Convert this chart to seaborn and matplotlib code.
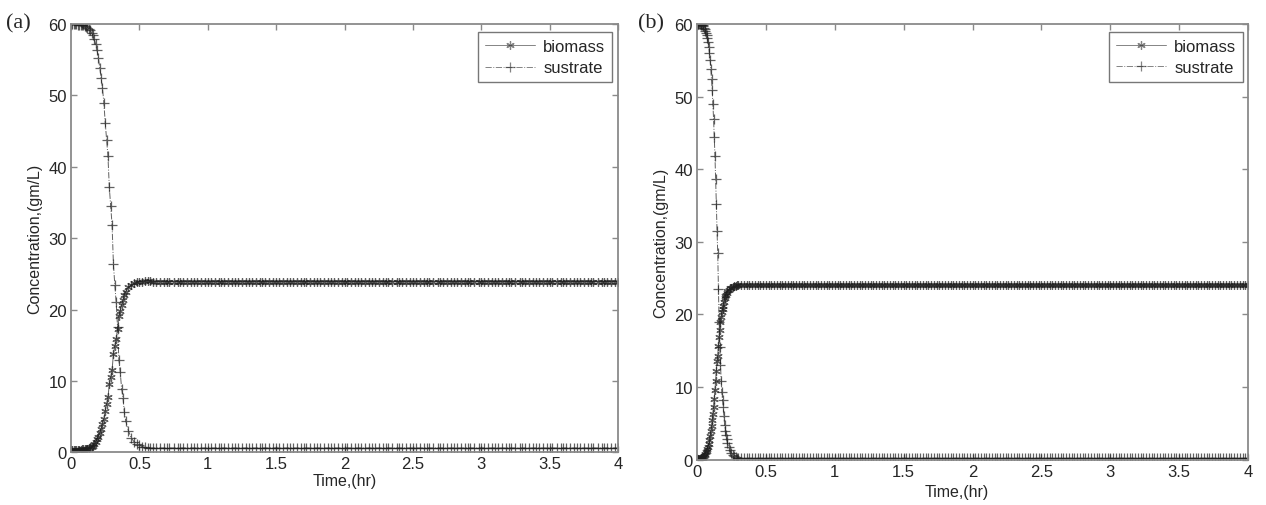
import matplotlib
matplotlib.use("Agg")
import matplotlib.pyplot as plt
import seaborn as sns

# ---- panel (a): shared time grid of the transition ----
t_a = [0.00, 0.01, 0.02, 0.03, 0.04, 0.05, 0.06, 0.07, 0.08, 0.09,
       0.10, 0.11, 0.12, 0.13, 0.14, 0.15, 0.16, 0.17, 0.18, 0.19,
       0.20, 0.21, 0.22, 0.23, 0.24, 0.25, 0.26, 0.27, 0.28, 0.29,
       0.30, 0.31, 0.32, 0.33, 0.34, 0.35, 0.36, 0.37, 0.38, 0.39,
       0.40, 0.42, 0.44, 0.46, 0.48, 0.50, 0.52, 0.54, 0.56, 0.58]
biomass_a = [0.3, 0.3, 0.3, 0.3, 0.3, 0.3, 0.3, 0.35, 0.4, 0.4,
             0.4, 0.45, 0.5, 0.6, 0.7, 0.8, 0.9, 1.1, 1.4, 1.8,
             2.2, 2.7, 3.3, 3.9, 4.7, 5.8, 6.8, 7.7, 9.5, 10.5,
             11.5, 13.7, 14.9, 15.9, 17.3, 19.1, 19.8, 20.7, 21.3, 22.0,
             22.5, 23.1, 23.5, 23.7, 23.8, 23.9, 23.9, 24.0, 24.0, 24.0]
sustrate_a = [60.0, 60.0, 60.0, 60.0, 60.0, 59.9, 59.9, 59.9, 59.8, 59.8,
              59.7, 59.6, 59.5, 59.3, 59.1, 58.8, 58.4, 57.9, 57.2, 56.3,
              55.3, 53.9, 52.5, 51.0, 49.0, 46.2, 43.8, 41.5, 37.1, 34.5,
              31.9, 26.4, 23.5, 21.0, 17.6, 12.9, 11.2, 8.9, 7.6, 5.6,
              4.4, 3.0, 2.0, 1.5, 1.2, 1.0, 0.8, 0.7, 0.6, 0.6]
# steady part of (a)
tail_a = [0.60, 0.62, 0.65, 0.68, 0.70, 0.72, 0.75, 0.78, 0.80, 0.82, 0.85, 0.88, 0.90, 0.92, 0.95, 0.98,
          1.00, 1.02, 1.05, 1.08, 1.10, 1.12, 1.15, 1.18, 1.20, 1.22, 1.25, 1.28, 1.30, 1.32, 1.35, 1.38,
          1.40, 1.42, 1.45, 1.48, 1.50, 1.52, 1.55, 1.58, 1.60, 1.62, 1.65, 1.68, 1.70, 1.72, 1.75, 1.78,
          1.80, 1.82, 1.85, 1.88, 1.90, 1.92, 1.95, 1.98, 2.00, 2.02, 2.05, 2.08, 2.10, 2.12, 2.15, 2.18,
          2.20, 2.22, 2.25, 2.28, 2.30, 2.32, 2.35, 2.38, 2.40, 2.42, 2.45, 2.48, 2.50, 2.52, 2.55, 2.58,
          2.60, 2.62, 2.65, 2.68, 2.70, 2.72, 2.75, 2.78, 2.80, 2.82, 2.85, 2.88, 2.90, 2.92, 2.95, 2.98,
          3.00, 3.02, 3.05, 3.08, 3.10, 3.12, 3.15, 3.18, 3.20, 3.22, 3.25, 3.28, 3.30, 3.32, 3.35, 3.38,
          3.40, 3.42, 3.45, 3.48, 3.50, 3.52, 3.55, 3.58, 3.60, 3.62, 3.65, 3.68, 3.70, 3.72, 3.75, 3.78,
          3.80, 3.82, 3.85, 3.88, 3.90, 3.92, 3.95, 3.98, 4.00]
biomass_a_level = 23.9
sustrate_a_level = 0.6

# ---- panel (b) ----
t_b = [0.000, 0.005, 0.010, 0.015, 0.020, 0.025, 0.030, 0.035, 0.040, 0.045,
       0.050, 0.055, 0.060, 0.065, 0.070, 0.075, 0.080, 0.085, 0.090, 0.095,
       0.100, 0.105, 0.110, 0.115, 0.120, 0.125, 0.130, 0.135, 0.140, 0.145,
       0.150, 0.155, 0.160, 0.165, 0.170, 0.175, 0.180, 0.185, 0.190, 0.195,
       0.200, 0.205, 0.210, 0.215, 0.220, 0.230, 0.240, 0.250, 0.260, 0.270,
       0.280, 0.290]
biomass_b = [0.1, 0.1, 0.1, 0.1, 0.1, 0.15, 0.2, 0.2, 0.3, 0.4,
             0.5, 0.6, 0.8, 1.0, 1.2, 1.5, 1.8, 2.2, 2.7, 3.2,
             3.9, 4.6, 5.4, 6.3, 7.3, 8.4, 9.6, 10.9, 12.2, 13.6,
             14.3, 15.7, 16.9, 17.9, 18.9, 19.7, 20.4, 20.8, 21.2, 21.7,
             22.2, 22.5, 22.7, 23.0, 23.2, 23.4, 23.6, 23.7, 23.8, 23.9,
             23.9, 24.0]
sustrate_b = [60.0, 60.0, 60.0, 60.0, 60.0, 60.0, 59.9, 59.9, 59.8, 59.7,
              59.5, 59.3, 59.1, 58.8, 58.5, 58.1, 57.5, 56.9, 56.0, 55.0,
              53.8, 52.4, 50.9, 49.0, 46.9, 44.5, 41.8, 38.7, 35.2, 31.5,
              28.5, 23.5, 19.0, 15.5, 13.0, 10.9, 9.3, 8.2, 7.3, 6.0,
              4.8, 4.0, 3.4, 2.8, 2.3, 1.7, 1.3, 0.9, 0.7, 0.5,
              0.4, 0.3]
tail_b = [0.30, 0.32, 0.34, 0.36, 0.38, 0.40, 0.42, 0.44, 0.46, 0.48,
          0.50, 0.52, 0.54, 0.56, 0.58, 0.60, 0.62, 0.64, 0.66, 0.68,
          0.70, 0.72, 0.74, 0.76, 0.78, 0.80, 0.82, 0.84, 0.86, 0.88,
          0.90, 0.92, 0.94, 0.96, 0.98, 1.00, 1.02, 1.04, 1.06, 1.08,
          1.10, 1.12, 1.14, 1.16, 1.18, 1.20, 1.22, 1.24, 1.26, 1.28,
          1.30, 1.32, 1.34, 1.36, 1.38, 1.40, 1.42, 1.44, 1.46, 1.48,
          1.50, 1.52, 1.54, 1.56, 1.58, 1.60, 1.62, 1.64, 1.66, 1.68,
          1.70, 1.72, 1.74, 1.76, 1.78, 1.80, 1.82, 1.84, 1.86, 1.88,
          1.90, 1.92, 1.94, 1.96, 1.98, 2.00, 2.02, 2.04, 2.06, 2.08,
          2.10, 2.12, 2.14, 2.16, 2.18, 2.20, 2.22, 2.24, 2.26, 2.28,
          2.30, 2.32, 2.34, 2.36, 2.38, 2.40, 2.42, 2.44, 2.46, 2.48,
          2.50, 2.52, 2.54, 2.56, 2.58, 2.60, 2.62, 2.64, 2.66, 2.68,
          2.70, 2.72, 2.74, 2.76, 2.78, 2.80, 2.82, 2.84, 2.86, 2.88,
          2.90, 2.92, 2.94, 2.96, 2.98, 3.00, 3.02, 3.04, 3.06, 3.08,
          3.10, 3.12, 3.14, 3.16, 3.18, 3.20, 3.22, 3.24, 3.26, 3.28,
          3.30, 3.32, 3.34, 3.36, 3.38, 3.40, 3.42, 3.44, 3.46, 3.48,
          3.50, 3.52, 3.54, 3.56, 3.58, 3.60, 3.62, 3.64, 3.66, 3.68,
          3.70, 3.72, 3.74, 3.76, 3.78, 3.80, 3.82, 3.84, 3.86, 3.88,
          3.90, 3.92, 3.94, 3.96, 3.98, 4.00]
biomass_b_level = 24.0
sustrate_b_level = 0.2

x_ticks = [0, 0.5, 1, 1.5, 2, 2.5, 3, 3.5, 4]
x_ticklabels = ["0", "0.5", "1", "1.5", "2", "2.5", "3", "3.5", "4"]
y_ticks = [0, 10, 20, 30, 40, 50, 60]

sns.set_style("ticks")
plt.rcParams["font.family"] = ["Liberation Sans", "DejaVu Sans"]
plt.rcParams["font.size"] = 12

GRAY = "#8a8a8a"
INK = "#1e1e1e"

fig = plt.figure(figsize=(12.66, 5.06), dpi=100)
ax_a = fig.add_axes([0.0561, 0.1042, 0.4321, 0.8464])
ax_b = fig.add_axes([0.5506, 0.0895, 0.4352, 0.8611])


def draw_panel(ax, t, bio, sub, tail, bio_level, sub_level, legend_anchor):
    tt = t + tail
    bio_all = bio + [bio_level] * len(tail)
    sub_all = sub + [sub_level] * len(tail)
    sns.lineplot(x=tt, y=bio_all, ax=ax, estimator=None, sort=False,
                 color=INK, linestyle="-", linewidth=0.7, alpha=0.7,
                 marker=(6, 2, 0), markersize=6, markeredgewidth=0.9,
                 markeredgecolor=INK, label="biomass")
    sns.lineplot(x=tt, y=sub_all, ax=ax, estimator=None, sort=False,
                 color=INK, linestyle="-.", linewidth=0.7, alpha=0.7,
                 marker="+", markersize=7, markeredgewidth=0.9,
                 markeredgecolor=INK, label="sustrate")
    ax.set_xlim(0, 4)
    ax.set_ylim(0, 60)
    ax.set_xticks(x_ticks)
    ax.set_xticklabels(x_ticklabels)
    ax.set_yticks(y_ticks)
    ax.tick_params(direction="in", top=True, right=True, length=4,
                   width=1, color=GRAY, labelsize=12, pad=3)
    for sp in ax.spines.values():
        sp.set_color(GRAY)
        sp.set_linewidth(1.3)
    ax.set_xlabel("Time,(hr)", fontsize=11.5, labelpad=1)
    ax.set_ylabel("Concentration,(gm/L)", fontsize=11.5, labelpad=4)
    leg = ax.legend(loc="upper right", bbox_to_anchor=legend_anchor,
                    borderaxespad=0, fancybox=False, frameon=True,
                    handlelength=3.0, labelspacing=0.4, borderpad=0.4,
                    handletextpad=0.5, fontsize=12)
    leg.get_frame().set_edgecolor("#555555")
    leg.get_frame().set_linewidth(1.0)
    for h in leg.legend_handles:
        h.set_alpha(0.55)


draw_panel(ax_a, t_a, biomass_a, sustrate_a, tail_a,
           biomass_a_level, sustrate_a_level, (0.989, 0.981))
draw_panel(ax_b, t_b, biomass_b, sustrate_b, tail_b,
           biomass_b_level, sustrate_b_level, (0.991, 0.982))
ax_b.xaxis.set_label_coords(0.472, -0.055)

fig.text(0.0145, 0.952, "(a)", family=["Liberation Serif", "DejaVu Serif"],
         fontsize=16, va="center", ha="center")
fig.text(0.5145, 0.952, "(b)", family=["Liberation Serif", "DejaVu Serif"],
         fontsize=16, va="center", ha="center")

fig.savefig("out.png", dpi=100)
